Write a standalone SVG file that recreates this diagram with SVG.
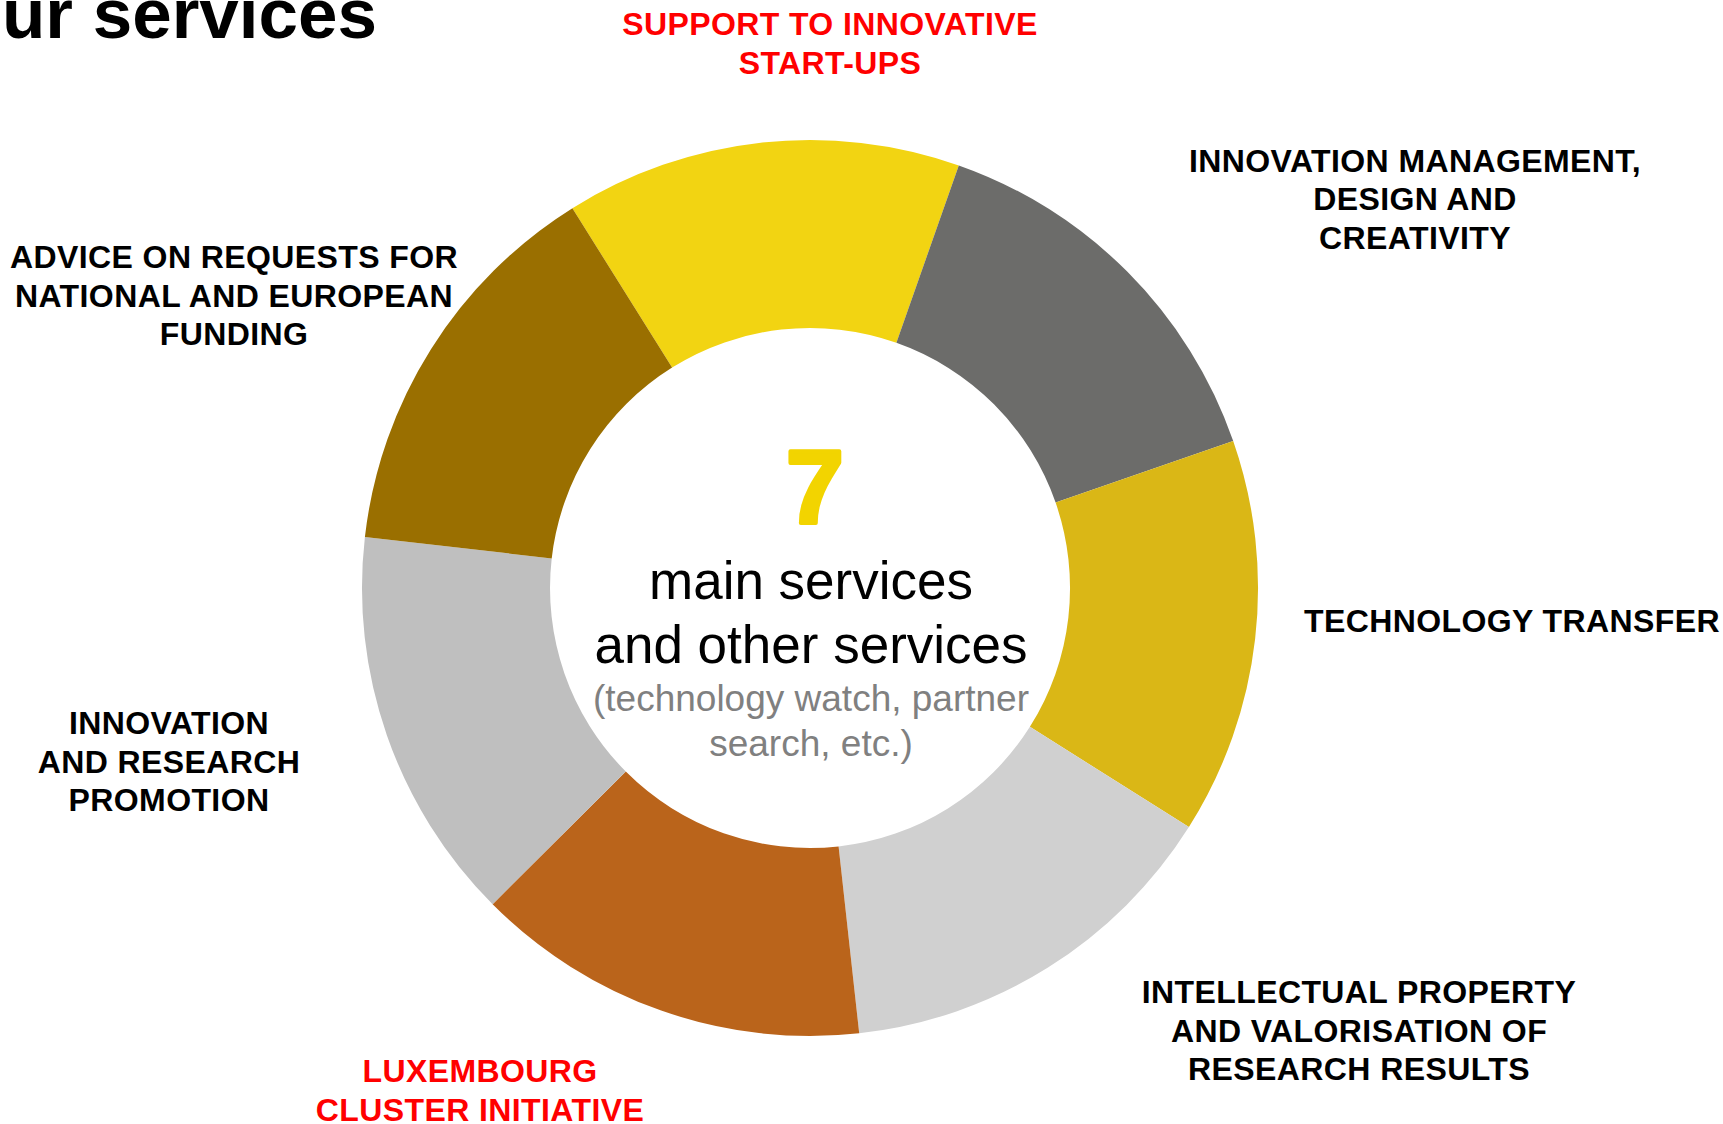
<svg xmlns="http://www.w3.org/2000/svg" width="1723" height="1124" viewBox="0 0 1723 1124">
<style>
.lbl{font-family:"Liberation Sans",Arial,sans-serif;font-weight:bold;font-size:32px;letter-spacing:0.4px;text-anchor:middle;fill:#000}
.red{fill:#FF0000}
.ctr{font-family:"Liberation Sans",Arial,sans-serif;text-anchor:middle}
</style>
<rect width="1723" height="1124" fill="#fff"/>
<text x="377" y="38" font-family="'Liberation Sans',Arial,sans-serif" font-weight="bold" font-size="71" text-anchor="end" fill="#000">ur services</text>
<g id="connectors"></g>
<g id="seg-startups"><path d="M572.4,208.2 A448,448 0 0 1 958.8,165.4 L896.4,342.8 A260,260 0 0 0 672.1,367.6 Z" fill="#F2D412"/></g>
<g id="seg-innovation-mgmt"><path d="M958.8,165.4 A448,448 0 0 1 1233.2,440.9 L1055.6,502.6 A260,260 0 0 0 896.4,342.8 Z" fill="#6C6C6A"/></g>
<g id="seg-tech-transfer"><path d="M1233.2,440.9 A448,448 0 0 1 1188.9,827.1 L1029.9,726.8 A260,260 0 0 0 1055.6,502.6 Z" fill="#DAB716"/></g>
<g id="seg-ip"><path d="M1188.9,827.1 A448,448 0 0 1 859.2,1033.3 L838.6,846.4 A260,260 0 0 0 1029.9,726.8 Z" fill="#D0D0D0"/></g>
<g id="seg-cluster"><path d="M859.2,1033.3 A448,448 0 0 1 492.6,904.2 L625.8,771.5 A260,260 0 0 0 838.6,846.4 Z" fill="#BA641B"/></g>
<g id="seg-promotion"><path d="M492.6,904.2 A448,448 0 0 1 364.9,537.0 L551.7,558.4 A260,260 0 0 0 625.8,771.5 Z" fill="#BFBFBF"/></g>
<g id="seg-funding"><path d="M364.9,537.0 A448,448 0 0 1 572.4,208.2 L672.1,367.6 A260,260 0 0 0 551.7,558.4 Z" fill="#9A6F00"/></g>
<g id="center">
<text class="ctr" x="815" y="523" font-size="104" font-weight="bold" fill="#F2D400" stroke="#F2D400" stroke-width="4" stroke-linejoin="round">7</text>
<text class="ctr" x="811" y="599" font-size="53" fill="#000">main services</text>
<text class="ctr" x="811" y="663" font-size="53" fill="#000">and other services</text>
<text class="ctr" x="811" y="711" font-size="37" fill="#808080">(technology watch, partner</text>
<text class="ctr" x="811" y="756" font-size="37" fill="#808080">search, etc.)</text>
</g>
<g id="label-startups"><text class="lbl red" x="830" y="35">SUPPORT TO INNOVATIVE</text><text class="lbl red" x="830" y="74">START-UPS</text></g>
<g id="label-innovation-mgmt"><text class="lbl" x="1415" y="172">INNOVATION MANAGEMENT,</text><text class="lbl" x="1415" y="210">DESIGN AND</text><text class="lbl" x="1415" y="249">CREATIVITY</text></g>
<g id="label-tech-transfer"><text class="lbl" x="1512" y="632">TECHNOLOGY TRANSFER</text></g>
<g id="label-ip"><text class="lbl" x="1359" y="1003">INTELLECTUAL PROPERTY</text><text class="lbl" x="1359" y="1042">AND VALORISATION OF</text><text class="lbl" x="1359" y="1080">RESEARCH RESULTS</text></g>
<g id="label-cluster"><text class="lbl red" x="480" y="1082">LUXEMBOURG</text><text class="lbl red" x="480" y="1121">CLUSTER INITIATIVE</text></g>
<g id="label-promotion"><text class="lbl" x="169" y="734">INNOVATION</text><text class="lbl" x="169" y="773">AND RESEARCH</text><text class="lbl" x="169" y="811">PROMOTION</text></g>
<g id="label-funding"><text class="lbl" x="234" y="268">ADVICE ON REQUESTS FOR</text><text class="lbl" x="234" y="307">NATIONAL AND EUROPEAN</text><text class="lbl" x="234" y="345">FUNDING</text></g>
</svg>
